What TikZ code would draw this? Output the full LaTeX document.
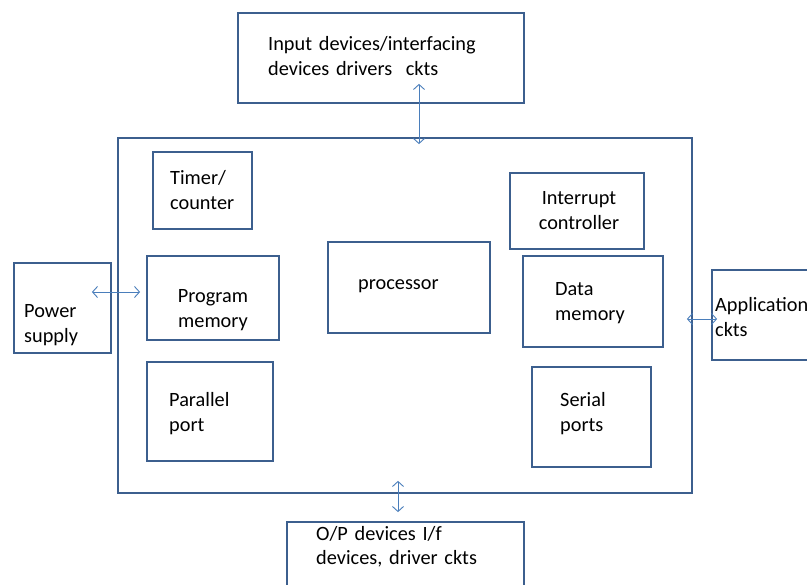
\documentclass[tikz,border=0pt]{standalone}
\usepackage{fontspec}
\setmainfont{Carlito}
\usetikzlibrary{arrows.meta}
\definecolor{boxblue}{RGB}{60,95,142}
\definecolor{linkblue}{RGB}{74,126,187}
\tikzset{
  blk/.style={draw=boxblue, line width=1.8pt, fill=none, inner sep=0pt},
  lbl/.style={inner sep=0pt, text width=260pt, align=left, anchor=base west,
              font=\fontsize{20.3}{24.5}\selectfont},
  clbl/.style={inner sep=0pt, text width=#1, align=center, anchor=base,
              font=\fontsize{20.3}{24.5}\selectfont},
  link/.style={draw=linkblue, line width=0.9pt,
               {Straight Barb[length=5pt,width=11pt]}-{Straight Barb[length=5pt,width=11pt]}},
}
\begin{document}
\begin{tikzpicture}[x=1pt,y=-1pt]
\useasboundingbox (0,0) rectangle (807,585);
\clip (0,0) rectangle (807,585);
\fill[white] (0,0) rectangle (807,585);

% outer blocks
\node[blk, minimum width=286pt, minimum height=90pt]  (top)   at (381,58) {};
\node[blk, minimum width=574pt, minimum height=355pt] (main)  at (405,315.5) {};
\node[blk, minimum width=97pt,  minimum height=90pt]  (power) at (62.5,308) {};
\node[blk, minimum width=188pt, minimum height=90pt]  (app)   at (806,315) {};
\node[blk, minimum width=237pt, minimum height=128pt] (op)    at (405.5,586) {};

% blocks inside the microcontroller
\node[blk, minimum width=99pt,  minimum height=77pt]  (timer)    at (202.5,190.5) {};
\node[blk, minimum width=134pt, minimum height=76pt]  (intr)     at (577,211) {};
\node[blk, minimum width=162pt, minimum height=91pt]  (proc)     at (409,287.5) {};
\node[blk, minimum width=132pt, minimum height=84pt]  (progmem)  at (213,298) {};
\node[blk, minimum width=140pt, minimum height=91pt]  (datamem)  at (593,301.5) {};
\node[blk, minimum width=126pt, minimum height=99pt]  (parallel) at (210,411.5) {};
\node[blk, minimum width=119pt, minimum height=100pt] (serial)   at (591.5,417) {};

% labels
\node[lbl] (topT)      at (268,51)  {Input devices/interfacing\\devices drivers\ \ ckts};
\node[lbl] (timerT)    at (170,185) {Timer/\\counter};
\node[clbl=134pt] (intrT)    at (579,205) {Interrupt\\controller};
\node[lbl] (procT)     at (358,290) {processor};
\node[clbl=132pt] (progmemT) at (213,303) {Program\\memory};
\node[lbl] (datamemT)  at (555,296) {Data\\memory};
\node[lbl] (parallelT) at (169,407) {Parallel\\port};
\node[lbl] (serialT)   at (560,407) {Serial\\ports};
\node[lbl] (powerT)    at (24,318)  {Power\\supply};
\node[lbl] (appT)      at (715,312) {Application\\ckts};
\node[lbl] (opT)       at (316,540) {O/P devices I/f\\devices, driver ckts};

% bidirectional links
\draw[link] ([shift={(38,-20)}]top.south)   -- ([shift={(14,7)}]main.north);
\draw[link] ([shift={(-20,-16)}]power.east) -- ([shift={(23,-23.5)}]main.west);
\draw[link] ([shift={(-6,3.5)}]main.east)   -- ([shift={(6,4)}]app.west);
\draw[link] ([shift={(-7,-13)}]main.south)  -- ([shift={(-7.5,-9)}]op.north);
\end{tikzpicture}
\end{document}
